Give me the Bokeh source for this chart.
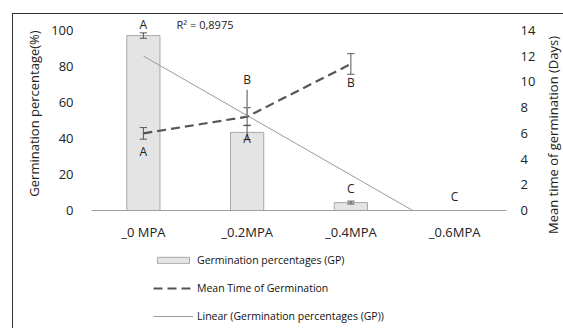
import numpy as np
from bokeh.plotting import figure
from bokeh.layouts import column, row
from bokeh.models import Range1d, LinearAxis, Legend, LegendItem, FixedTicker
from bokeh.core.properties import value
from bokeh.embed import file_html
from bokeh.resources import INLINE

# ---- data ----
categories = ["_0 MPA", "_0.2MPA", "_0.4MPA", "_0.6MPA"]
gp = [97.2, 43.4, 4.4, 0.0]            # Germination percentage (%)
gp_err = [1.5, 4.0, 0.8, 0.0]
gp_letters = ["A", "A", "C", "C"]
mtg = [6.0, 7.3, 11.4]                 # Mean time of germination (days)
mtg_err = [0.45, 0.7, 0.8]
mtg_letters = ["A", "B", "B"]
r2_text = "R\u00b2 = 0,8975"
left_title = "Germination percentage(%)"
right_title = "Mean time of germination (Days)"
legend_labels = ["Germination percentages (GP)", "Mean Time of Germination",
                 "Linear (Germination percentages (GP))"]

FONT = "Open Sans"
TXT = "#222222"
BAR_FILL, BAR_LINE = "#e4e4e4", "#a8a8a8"
MTG_COLOR, TREND_COLOR = "#555555", "#9a9a9a"
MTG_DASH = "9 5"

x = np.arange(1, len(categories) + 1)
xm = x[:len(mtg)]

def no_align(fig):
    if "frame_align" in fig.properties():
        fig.frame_align = False
        return True
    return False

Y_TOP = 107.8
P_H = 235
p = figure(width=528, height=P_H, output_backend="svg", toolbar_location=None,
           x_range=Range1d(0.5, 4.5), y_range=Range1d(0, Y_TOP),
           min_border_left=78, min_border_right=35, min_border_top=2, min_border_bottom=39)
p.outline_line_color = None
p.grid.visible = False
p.extra_y_ranges = {"mtg": Range1d(0, Y_TOP * 14 / 100)}
no_align(p)

bars = p.vbar(x=x, top=gp, width=0.32, fill_color=BAR_FILL, line_color=BAR_LINE, line_width=1)

def errbar(xs, ys, es, rng=None, color="#555555", cap=0.035):
    kw = {} if rng is None else {"y_range_name": rng}
    xs = np.asarray(xs, float); ys = np.asarray(ys, float); es = np.asarray(es, float)
    p.segment(x0=xs, y0=ys - es, x1=xs, y1=ys + es, line_color=color, line_width=1, **kw)
    p.segment(x0=xs - cap, y0=ys - es, x1=xs + cap, y1=ys - es, line_color=color, line_width=1, **kw)
    p.segment(x0=xs - cap, y0=ys + es, x1=xs + cap, y1=ys + es, line_color=color, line_width=1, **kw)

errbar(x, gp, gp_err)

# linear trend of GP, clipped at 0
slope, intercept = np.polyfit(x, gp, 1)
x_end = -intercept / slope
tx = np.array([1.0, x_end])
p.line(tx, slope * tx + intercept, line_color=TREND_COLOR, line_width=1)

# MTG line
p.line(xm, mtg, y_range_name="mtg", line_color=MTG_COLOR, line_width=2.2, line_dash=MTG_DASH)
errbar(xm, mtg, mtg_err, rng="mtg", color=MTG_COLOR)
p.ray(x=[xm[1]], y=[mtg[1]], length=27, length_units="screen", angle=np.pi / 2,
      y_range_name="mtg", line_color="#8a8a8a", line_width=1.5)

# letters
gp_off = [-11, 6, -14, -14]
p.text(x=x, y=gp, text=gp_letters, y_offset=gp_off, text_align="center", text_baseline="middle",
       text_font=value(FONT), text_font_size="12px", text_color=TXT)
mtg_off = [18, -37, 19]
p.text(x=xm, y=mtg, text=mtg_letters, y_offset=mtg_off, y_range_name="mtg", text_align="center",
       text_baseline="middle", text_font=value(FONT), text_font_size="12px", text_color=TXT)
p.text(x=[1.32], y=[gp[0]], text=[r2_text], y_offset=[-11], text_align="left", text_baseline="middle",
       text_font=value(FONT), text_font_size="11px", text_color=TXT)

# axes
p.xaxis.ticker = FixedTicker(ticks=list(x))
p.xaxis.major_label_overrides = {int(i): c for i, c in zip(x, categories)}
p.xaxis.axis_line_color = "#a0a0a0"
p.xaxis.major_tick_line_color = None
p.xaxis.minor_tick_line_color = None
p.xaxis.major_label_standoff = 6
p.xaxis.major_label_text_font = FONT
p.xaxis.major_label_text_font_size = "13px"
p.xaxis.major_label_text_color = TXT

p.yaxis.ticker = FixedTicker(ticks=[0, 20, 40, 60, 80, 100])
p.yaxis.axis_line_color = None
p.yaxis.major_tick_line_color = None
p.yaxis.minor_tick_line_color = None
p.yaxis.major_label_standoff = 12
p.yaxis.axis_label = left_title
p.yaxis.axis_label_standoff = 5

ax2 = LinearAxis(y_range_name="mtg", ticker=FixedTicker(ticks=list(range(0, 15, 2))))
ax2.axis_line_color = None
ax2.major_tick_line_color = None
ax2.minor_tick_line_color = None
ax2.major_label_standoff = 8
p.add_layout(ax2, "right")

for ax in [p.yaxis[0], ax2]:
    ax.major_label_text_font = FONT
    ax.major_label_text_font_size = "13px"
    ax.major_label_text_color = TXT
    ax.axis_label_text_font = FONT
    ax.axis_label_text_font_size = "13px"
    ax.axis_label_text_font_style = "normal"
    ax.axis_label_text_color = TXT

# ---- right axis title (reads bottom-to-top, as in the reference) ----
pt = figure(width=23, height=P_H, output_backend="svg", toolbar_location=None,
            x_range=Range1d(0, 23), y_range=Range1d(0, P_H),
            x_axis_location=None, y_axis_location=None,
            min_border_left=0, min_border_right=0, min_border_top=0, min_border_bottom=0)
pt.outline_line_color = None
pt.grid.visible = False
no_align(pt)
pt.text(x=[11], y=[P_H / 2], text=[right_title], angle=np.pi / 2, y_offset=[3],
        text_align="center", text_baseline="middle",
        text_font=value(FONT), text_font_size="13px", text_color=TXT)

# ---- legend panel ----
p2 = figure(width=551, height=80, output_backend="svg", toolbar_location=None,
            x_range=Range1d(0, 1), y_range=Range1d(0, 1),
            x_axis_location=None, y_axis_location=None,
            min_border_left=0, min_border_right=0, min_border_top=0, min_border_bottom=0)
p2.outline_line_color = None
p2.grid.visible = False
aligned_off = no_align(p2)
off = [-10, -9]  # dummy glyphs outside the visible range, only for legend swatches
r_bar = p2.vbar(x=off[:1], top=off[:1], width=0.1, fill_color=BAR_FILL, line_color=BAR_LINE, line_width=1)
r_mtg = p2.line(x=off, y=off, line_color=MTG_COLOR, line_width=2.2, line_dash=MTG_DASH)
r_tr = p2.line(x=off, y=off, line_color=TREND_COLOR, line_width=1)

legend = Legend(items=[LegendItem(label=l, renderers=[r]) for l, r in
                       zip(legend_labels, [r_bar, r_mtg, r_tr])],
                location=(140 if aligned_off else 60, 6), orientation="vertical")
legend.background_fill_alpha = 0
legend.border_line_color = None
legend.label_text_font = FONT
legend.label_text_font_size = "10.5px"
legend.label_text_color = "#111111"
legend.glyph_width = 40
legend.glyph_height = 8
legend.label_height = 12
legend.spacing = 14
legend.padding = 0
legend.margin = 0
legend.label_standoff = 4
p2.add_layout(legend, "center")

layout = column(row(p, pt, spacing=0), p2, spacing=0)
layout.margin = (13, 0, 0, 12)
layout.styles = {"border-left": "1.5px solid #333", "border-top": "1.5px solid #333",
                 "background": "white"}

open("out.html", "w").write(file_html(layout, INLINE))
